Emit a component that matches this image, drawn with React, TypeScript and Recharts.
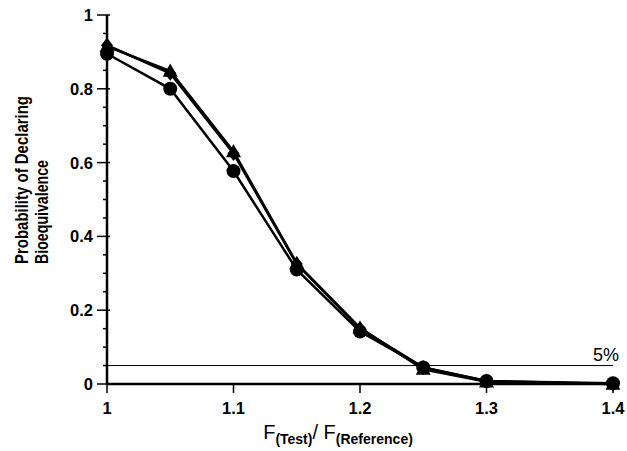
import { LineChart, Line, XAxis, YAxis, ReferenceLine } from 'recharts';

const ratios = [1, 1.05, 1.1, 1.15, 1.2, 1.25, 1.3, 1.4];
const circleProb = [0.895, 0.8, 0.577, 0.31, 0.142, 0.045, 0.008, 0.002];
const triangleProb = [0.915, 0.848, 0.63, 0.327, 0.152, 0.04, 0.006, 0.0];
const diamondProb = [0.918, 0.842, 0.625, 0.325, 0.15, 0.045, 0.008, 0.0];

const xTicks = [1, 1.1, 1.2, 1.3, 1.4];
const yTicks = [0, 0.05, 0.1, 0.15, 0.2, 0.25, 0.3, 0.35, 0.4, 0.45, 0.5, 0.55, 0.6, 0.65, 0.7, 0.75, 0.8, 0.85, 0.9, 0.95, 1];
const yLabels: Record<string, string> = { '0': '0', '0.2': '0.2', '0.4': '0.4', '0.6': '0.6', '0.8': '0.8', '1': '1' };

const data = ratios.map((r, i) => ({
  ratio: r,
  circle: circleProb[i],
  triangle: triangleProb[i],
  diamond: diamondProb[i],
}));

const FONT = '"Liberation Sans", Arial, sans-serif';

// y tick: long tick + label for majors, short tick for minors
function YTick(props: any) {
  const { x, y, payload } = props;
  const label = yLabels[String(payload.value)];
  const axisX = x + 13;
  return (
    <g>
      <line x1={label ? axisX - 10 : axisX - 4} x2={axisX + (label ? 3 : 0)} y1={y} y2={y} stroke="#000" strokeWidth={1.5} />
      {label && (
        <text x={x - 1} y={y} dy={6} textAnchor="end" fontFamily={FONT} fontWeight="bold" fontSize={16.5} fill="#000">
          {label}
        </text>
      )}
    </g>
  );
}

function XTick(props: any) {
  const { x, y, payload } = props;
  return (
    <text x={x} y={y} dy={19} textAnchor="middle" fontFamily={FONT} fontWeight="bold" fontSize={16.5} fill="#000">
      {payload.value}
    </text>
  );
}

function Triangle(props: any) {
  const { cx, cy } = props;
  if (cx == null || cy == null) return null;
  const s = 7.5;
  return <polygon points={`${cx},${cy - s} ${cx - s},${cy + s * 0.75} ${cx + s},${cy + s * 0.75}`} fill="#000" />;
}

function Diamond(props: any) {
  const { cx, cy } = props;
  if (cx == null || cy == null) return null;
  const s = 7.5;
  return <polygon points={`${cx},${cy - s} ${cx + s * 0.8},${cy} ${cx},${cy + s} ${cx - s * 0.8},${cy}`} fill="#000" />;
}

function FivePct(props: any) {
  const vb = props.viewBox || {};
  return (
    <text x={(vb.x ?? 0) + (vb.width ?? 0) + 6} y={(vb.y ?? 0) - 5} textAnchor="end" fontFamily={FONT} fontSize={18} fill="#000">
      5%
    </text>
  );
}

export default function App() {
  return (
    <div style={{ position: 'absolute', left: 0, top: 0, background: '#fff' }}>
      <LineChart width={627} height={451} data={data} margin={{ top: 15, right: 14, bottom: 27, left: 0 }}>
        <XAxis
          dataKey="ratio"
          type="number"
          domain={[1, 1.4]}
          ticks={xTicks}
          tick={<XTick />}
          tickSize={9}
          tickLine={{ stroke: '#000', strokeWidth: 1.5 }}
          axisLine={{ stroke: '#000', strokeWidth: 2.5 }}
          height={40}
          label={{
            position: 'bottom',
            content: () => (
              <text x={338} y={439} textAnchor="middle" fontFamily={FONT} fontSize={20} fill="#000">
                F
                <tspan fontSize={14} fontWeight="bold" dy={5}>(Test)</tspan>
                <tspan dy={-5}>/ F</tspan>
                <tspan fontSize={14} fontWeight="bold" dy={5}>(Reference)</tspan>
              </text>
            ),
          }}
        />
        <YAxis
          type="number"
          domain={[0, 1]}
          ticks={yTicks}
          interval={0}
          tick={<YTick />}
          tickLine={false}
          tickSize={10}
          tickMargin={3}
          axisLine={{ stroke: '#000', strokeWidth: 2.5 }}
          width={107}
          label={{
            position: 'left',
            content: () => (
              <g fontFamily={FONT} fontWeight="bold" fontSize={17.5} fill="#000">
                <text x={28} y={264} transform="rotate(-90 28 264)" textAnchor="start" textLength={168} lengthAdjust="spacingAndGlyphs">
                  Probability of Declaring
                </text>
                <text x={48} y={264} transform="rotate(-90 48 264)" textAnchor="start" textLength={104} lengthAdjust="spacingAndGlyphs">
                  Bioequivalence
                </text>
              </g>
            ),
          }}
        />
        <ReferenceLine y={0.05} stroke="#000" strokeWidth={1} label={<FivePct />} />
        <Line
          dataKey="circle"
          stroke="#000"
          strokeWidth={2.5}
          dot={{ r: 7, fill: '#000', stroke: '#000', strokeWidth: 0 }}
          isAnimationActive={false}
        />
        <Line dataKey="triangle" stroke="#000" strokeWidth={2.5} dot={<Triangle />} isAnimationActive={false} />
        <Line dataKey="diamond" stroke="#000" strokeWidth={2.5} dot={<Diamond />} isAnimationActive={false} />
      </LineChart>
    </div>
  );
}
